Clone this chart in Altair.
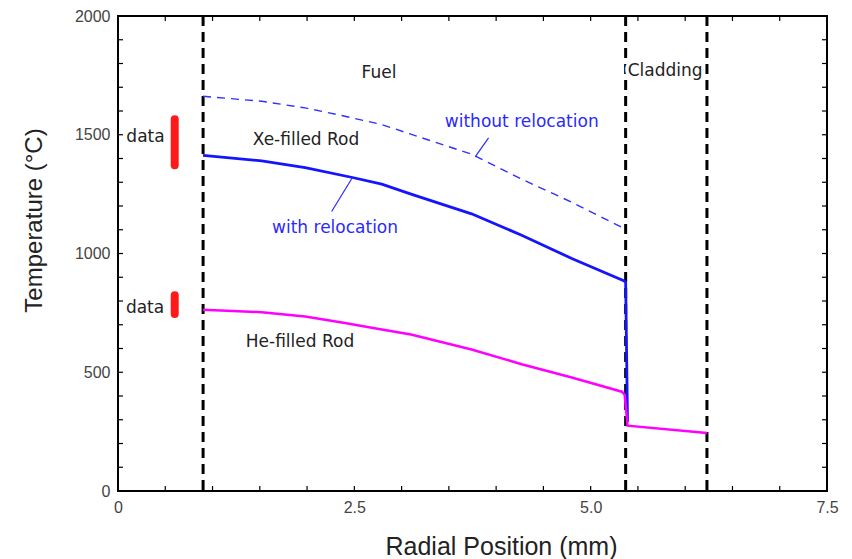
import altair as alt
import pandas as pd

# ---- data ----
# Xe-filled rod, without relocation (dashed)
x_nr = [0.90, 1.52, 1.98, 2.40, 2.79, 3.07, 3.74, 4.27, 4.80, 5.33, 5.36]
t_nr = [1662, 1641, 1613, 1578, 1543, 1506, 1418, 1313, 1216, 1110, 1100]

# Xe-filled rod, with relocation (solid blue)
x_xe = [0.90, 1.52, 1.98, 2.48, 2.79, 3.10, 3.74, 4.27, 4.80, 5.35, 5.37, 5.39]
t_xe = [1413, 1390, 1362, 1320, 1292, 1250, 1167, 1077, 979, 885, 880, 290]

# He-filled rod (magenta)
x_he = [0.90, 1.52, 1.98, 2.40, 2.79, 3.10, 3.74, 4.27, 4.80, 5.33, 5.36, 5.39, 6.23]
t_he = [763, 753, 735, 707, 680, 659, 596, 534, 478, 418, 405, 275, 244]

# region boundaries (dashed vertical lines)
boundaries = [0.90, 5.37, 6.23]

# measured data ranges (red bars)
data_x = [0.60, 0.60]
data_lo = [1372, 745]
data_hi = [1565, 824]

# annotations
ann_text = ["Fuel", "Cladding", "without relocation", "Xe-filled Rod",
            "with relocation", "data", "data", "He-filled Rod"]
ann_x = [2.761, 5.787, 4.271, 1.989, 2.296, 0.291, 0.286, 1.925]
ann_t = [1740, 1749, 1531, 1456, 1085, 1469, 749, 607]
ann_color = ["#222222", "#222222", "#2a2aff", "#222222",
             "#2a2aff", "#222222", "#222222", "#222222"]

# leader lines
lead_x = [2.48, 3.92]
lead_t = [1320, 1487]
lead_x2 = [2.26, 3.78]
lead_t2 = [1177, 1408]

x_ticks_major = [0, 2.5, 5.0, 7.5]
y_ticks_major = [0, 500, 1000, 1500, 2000]
x_minor = [i * 0.5 for i in range(16)]
y_minor = [i * 100 for i in range(21)]

W, H = 709, 475
xs = alt.Scale(domain=[0, 7.5], nice=False, zero=False)
ys = alt.Scale(domain=[0, 2000], nice=False, zero=False)

FONT = "Liberation Sans"
AFONT = "DejaVu Sans"

df_nr = pd.DataFrame({"x": x_nr, "t": t_nr, "o": range(len(x_nr))})
df_xe = pd.DataFrame({"x": x_xe, "t": t_xe, "o": range(len(x_xe))})
df_he = pd.DataFrame({"x": x_he, "t": t_he, "o": range(len(x_he))})
df_ann = pd.DataFrame({"x": ann_x, "t": ann_t, "s": ann_text, "c": ann_color})

x_axis = alt.Axis(values=x_ticks_major, ticks=False, domain=False, grid=False,
                  labelExpr="datum.value == 0 ? '0' : format(datum.value, '.1f')",
                  labelFont=FONT, labelFontSize=16, labelColor="#444444", labelPadding=8,
                  labelFlush=False,
                  title="Radial Position (mm)", titleFont=FONT, titleFontSize=25,
                  titleFontWeight="normal", titleColor="#222222",
                  titleBaseline="alphabetic", titleAlign="center",
                  titleX=383, titleY=63)
y_axis = alt.Axis(values=y_ticks_major, ticks=False, domain=False, grid=False,
                  format="d",
                  labelFont=FONT, labelFontSize=16, labelColor="#444444", labelPadding=8,
                  labelFlush=False,
                  title="Temperature (°C)", titleFont=FONT, titleFontSize=24,
                  titleFontWeight="normal", titleColor="#222222",
                  titleBaseline="alphabetic", titleAlign="center", titleAngle=270,
                  titleX=-77, titleY=204)


def X(f):
    return alt.X(f, scale=xs, axis=x_axis)


def Y(f):
    return alt.Y(f, scale=ys, axis=y_axis)


he_line = alt.Chart(df_he).mark_line(color="#ff00ff", strokeWidth=2.5).encode(
    x=X("x:Q"), y=Y("t:Q"), order="o:Q")

xe_line = alt.Chart(df_xe).mark_line(color="#1414ff", strokeWidth=2.8).encode(
    x=X("x:Q"), y=Y("t:Q"), order="o:Q")

nr_line = alt.Chart(df_nr).mark_line(color="#3030ff", strokeWidth=1.4, strokeDash=[8, 6]).encode(
    x=X("x:Q"), y=Y("t:Q"), order="o:Q")

bound = alt.Chart(pd.DataFrame({"x": boundaries})).mark_rule(
    color="black", strokeWidth=3, strokeDash=[10, 6]).encode(x=X("x:Q"))

bars = alt.Chart(pd.DataFrame({"x": data_x, "lo": data_lo, "hi": data_hi})).mark_rule(
    color="#ff1a1a", strokeWidth=8, strokeCap="round").encode(
    x=X("x:Q"), y=Y("lo:Q"), y2="hi:Q")

leads = alt.Chart(pd.DataFrame({"x": lead_x, "t": lead_t, "x2": lead_x2, "t2": lead_t2})).mark_rule(
    color="#2a2aff", strokeWidth=1.2).encode(
    x=X("x:Q"), y=Y("t:Q"), x2="x2:Q", y2="t2:Q")

# white halo behind the "Cladding" label (it masks the dashed lines in the original)
halo = alt.Chart(df_ann[df_ann["s"] == "Cladding"]).mark_text(
    font=AFONT, fontSize=17, align="center", baseline="alphabetic",
    stroke="white", strokeWidth=7, fill="white").encode(
    x=X("x:Q"), y=Y("t:Q"), text="s:N")

texts = alt.Chart(df_ann).mark_text(
    font=AFONT, fontSize=17, align="center", baseline="alphabetic").encode(
    x=X("x:Q"), y=Y("t:Q"), text="s:N", color=alt.Color("c:N", scale=None))

dfx = pd.DataFrame({"x": x_minor})
dfy = pd.DataFrame({"t": y_minor})
tick_kw = dict(color="black", strokeWidth=1.2)
tb = alt.Chart(dfx).mark_rule(**tick_kw).encode(
    x=X("x:Q"), y=alt.value(H), y2=alt.value(H - 5))
tt = alt.Chart(dfx).mark_rule(**tick_kw).encode(
    x=X("x:Q"), y=alt.value(0), y2=alt.value(5))
tl = alt.Chart(dfy).mark_rule(**tick_kw).encode(
    y=Y("t:Q"), x=alt.value(0), x2=alt.value(5))
tr = alt.Chart(dfy).mark_rule(**tick_kw).encode(
    y=Y("t:Q"), x=alt.value(W), x2=alt.value(W - 5))

chart = alt.layer(tb, tt, tl, tr, bound, nr_line, xe_line, he_line,
                  bars, leads, halo, texts).properties(
    width=W, height=H,
    padding={"left": 110, "top": 8, "right": 17, "bottom": 68},
    autosize=alt.AutoSizeParams(type="none"),
).configure_view(stroke="black", strokeWidth=2)

chart.save("out.html", embed_options={"renderer": "svg", "actions": False})
